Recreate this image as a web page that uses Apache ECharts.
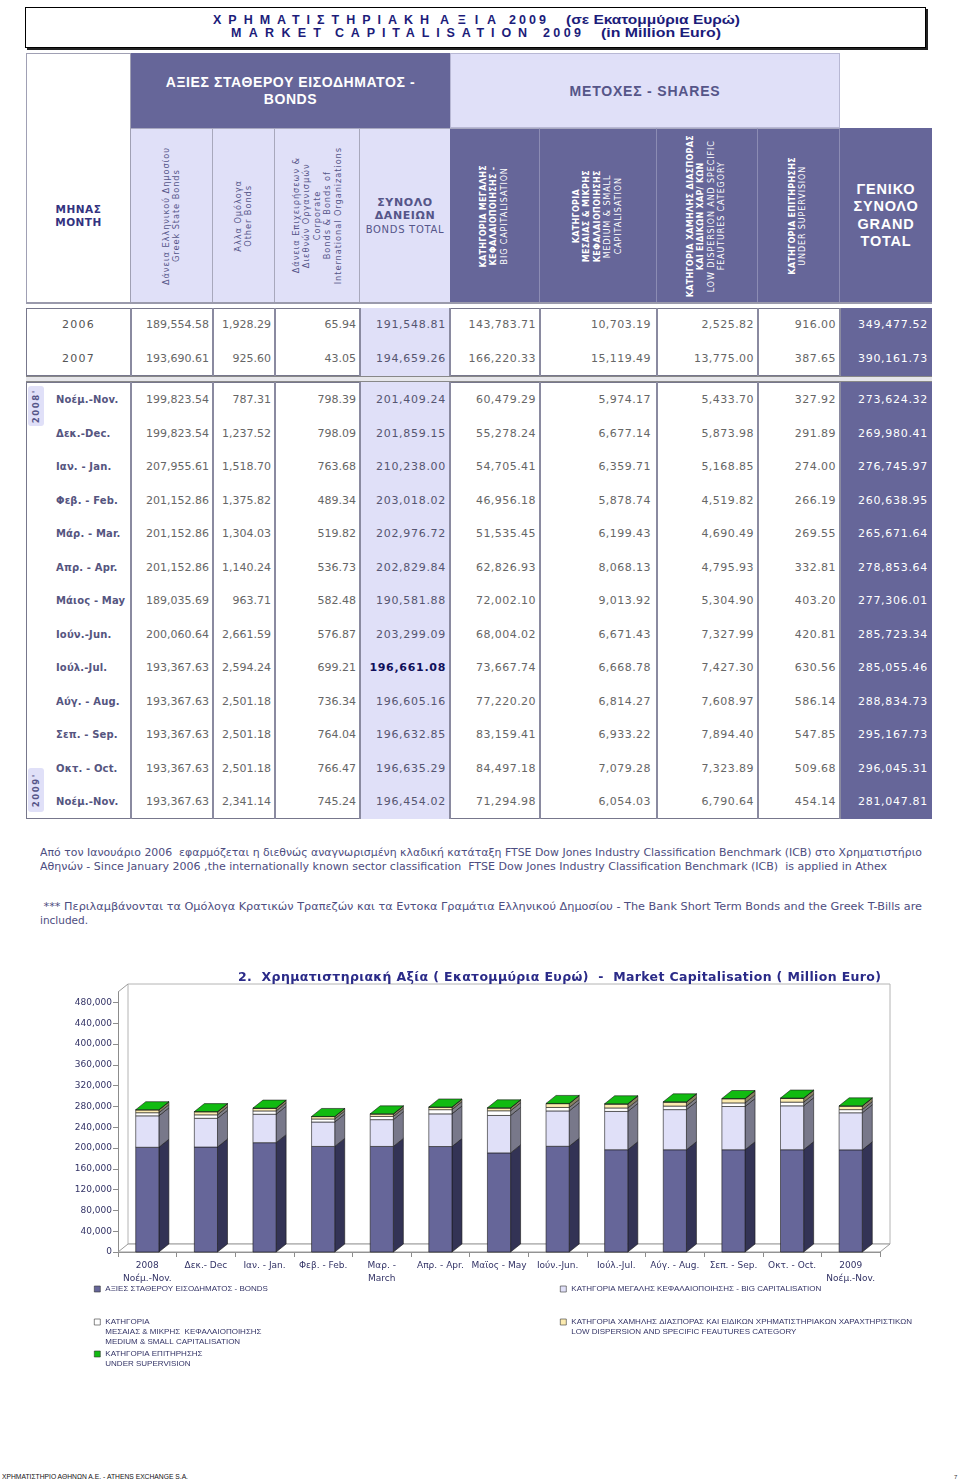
<!DOCTYPE html>
<html><head><meta charset="utf-8">
<script src="https://cdn.jsdelivr.net/npm/echarts@6/dist/echarts.min.js"></script>
<style>
html,body{margin:0;padding:0}
body{width:960px;height:1482px;position:relative;background:#fff;overflow:hidden;font-family:"DejaVu Sans",Verdana,sans-serif}
.a{position:absolute;box-sizing:border-box}
.t{position:absolute;white-space:pre;transform-origin:0 50%}
.vt{writing-mode:vertical-rl;transform:rotate(180deg);text-align:center;white-space:nowrap}
</style></head><body>
<div id="page" class="a" style="left:0;top:0;width:960px;height:1482px"></div>
<div id="chart" class="a" style="left:0;top:940px;width:960px;height:460px"></div>
<div id="over" class="a" style="left:0;top:0;width:960px;height:1482px;pointer-events:none"></div>
<script>
// ---------------- DATA ----------------
const monthLabels = ['Νοέμ.-Nov.','Δεκ.-Dec.','Ιαν. - Jan.','Φεβ. - Feb.','Μάρ. - Mar.','Απρ. - Apr.','Μάιος - May','Ιούν.-Jun.','Ιούλ.-Jul.','Αύγ. - Aug.','Σεπ. - Sep.','Οκτ. - Oct.','Νοέμ.-Nov.'];
const chartCategories = ['2008\nΝοέμ.-Nov.','Δεκ.- Dec','Ιαν. - Jan.','Φεβ. - Feb.','Μαρ. -\nMarch','Απρ. - Apr.','Μαϊος - May','Ιούν.-Jun.','Ιούλ.-Jul.','Αύγ. - Aug.','Σεπ. - Sep.','Οκτ. - Oct.','2009\nΝοέμ.-Nov.'];
const greekState = [199823.54,199823.54,207955.61,201152.86,201152.86,201152.86,189035.69,200060.64,193367.63,193367.63,193367.63,193367.63,193367.63];
const otherBonds = [787.31,1237.52,1518.70,1375.82,1304.03,1140.24,963.71,2661.59,2594.24,2501.18,2501.18,2501.18,2341.14];
const corporateBonds = [798.39,798.09,763.68,489.34,519.82,536.73,582.48,576.87,699.21,736.34,764.04,766.47,745.24];
const bondsTotal = [201409.24,201859.15,210238.00,203018.02,202976.72,202829.84,190581.88,203299.09,196661.08,196605.16,196632.85,196635.29,196454.02];
const bigCap = [60479.29,55278.24,54705.41,46956.18,51535.45,62826.93,72002.10,68004.02,73667.74,77220.20,83159.41,84497.18,71294.98];
const mediumSmall = [5974.17,6677.14,6359.71,5878.74,6199.43,8068.13,9013.92,6671.43,6668.78,6814.27,6933.22,7079.28,6054.03];
const lowDispersion = [5433.70,5873.98,5168.85,4519.82,4690.49,4795.93,5304.90,7327.99,7427.30,7608.97,7894.40,7323.89,6790.64];
const underSupervision = [327.92,291.89,274.00,266.19,269.55,332.81,403.20,420.81,630.56,586.14,547.85,509.68,454.14];
const grandTotal = [273624.32,269980.41,276745.97,260638.95,265671.64,278853.64,277306.01,285723.34,285055.46,288834.73,295167.73,296045.31,281047.81];

const yearLabels = ['2006','2007'];
const yearGreekState = [189554.58,193690.61];
const yearOtherBonds = [1928.29,925.60];
const yearCorporate = [65.94,43.05];
const yearBondsTotal = [191548.81,194659.26];
const yearBigCap = [143783.71,166220.33];
const yearMediumSmall = [10703.19,15119.49];
const yearLowDispersion = [2525.82,13775.00];
const yearSupervision = [916.00,387.65];
const yearGrandTotal = [349477.52,390161.73];

const yAxisMax = 500000, yAxisInterval = 40000;

// ---------------- helpers ----------------
const page = document.getElementById('page');
const over = document.getElementById('over');
function box(x,y,w,h,st,parent){const d=document.createElement('div');d.className='a';Object.assign(d.style,{left:x+'px',top:y+'px',width:w+'px',height:h+'px'},st||{});(parent||page).appendChild(d);return d;}
function txt(text,o,parent){
  const s=document.createElement('span');s.className='t';s.textContent=text;
  const size=o.size||11, lh=Math.round(size*1.25);
  Object.assign(s.style,{fontSize:size+'px',lineHeight:lh+'px',left:o.x+'px',top:(o.y-lh/2)+'px',color:o.color||'#333',fontWeight:o.weight||'normal',fontFamily:o.family||'"DejaVu Sans",sans-serif'});
  if(o.ls!=null) s.style.letterSpacing=o.ls+'px';
  (parent||page).appendChild(s);
  if(o.w){
    const n=text.length;
    const nat=s.getBoundingClientRect().width - (o.ls||0)*n;
    if(o.mode==='ls'){const ls=(o.w-nat)/(n-1);s.style.letterSpacing=ls+'px';}
    else {s.style.transform='scaleX('+(o.w/nat)+')';}
  }
  return s;
}
function fmt2(v){const s=v.toFixed(2).split('.');return s[0].replace(/\B(?=(\d{3})+(?!\d))/g,',')+'.'+s[1];}
function fmt0(v){return String(Math.round(v)).replace(/\B(?=(\d{3})+(?!\d))/g,',');}

const PURPLE='#666699', LAV='#e0e0f8', NAVY='#1c1c7a', TXTP='#555588';

// ---------------- title box ----------------
box(25,7,901,41,{border:'1px solid #000',boxShadow:'2px 2px 0 #222',background:'#fff'});
const tf='"Liberation Sans",Arial,sans-serif';
txt('ΧΡΗΜΑΤΙΣΤΗΡΙΑΚΗ',{x:213,y:19.5,w:216,mode:'ls',size:12.5,weight:'bold',color:NAVY,family:tf});
txt('ΑΞΙΑ',{x:440,y:19.5,w:56,mode:'ls',size:12.5,weight:'bold',color:NAVY,family:tf});
txt('2009',{x:509,y:19.5,w:37,mode:'ls',size:12.5,weight:'bold',color:NAVY,family:tf});
txt('(σε Εκατομμύρια Ευρώ)',{x:566,y:19.5,w:174,size:13,weight:'bold',color:NAVY,family:tf});
txt('MARKET',{x:231,y:33,w:90,mode:'ls',size:12.5,weight:'bold',color:NAVY,family:tf});
txt('CAPITALISATION',{x:335,y:33,w:192,mode:'ls',size:12.5,weight:'bold',color:NAVY,family:tf});
txt('2009',{x:543,y:33,w:38,mode:'ls',size:12.5,weight:'bold',color:NAVY,family:tf});
txt('(in Million Euro)',{x:601,y:33,w:120,size:13,weight:'bold',color:NAVY,family:tf});

// ---------------- table header ----------------
const cols=[26,131,213,275,360,450,540,657,758,840,932];
box(26,53,105,250,{border:'1px solid #a0a0b4',background:'#fff'});
const mc=box(26,128,105,175,{display:'flex',alignItems:'center',justifyContent:'center',textAlign:'center',color:'#333380',fontWeight:'bold',fontSize:'10.5px',lineHeight:'13px',letterSpacing:'0.5px'});
mc.innerHTML='<div>ΜΗΝΑΣ<br>MONTH</div>';
const bg=box(131,53,319,75,{background:PURPLE,display:'flex',alignItems:'center',justifyContent:'center',textAlign:'center',color:'#fff',fontWeight:'bold',fontSize:'14px',lineHeight:'17px',fontFamily:tf,letterSpacing:'0.6px'});
bg.innerHTML='<div>ΑΞΙΕΣ ΣΤΑΘΕΡΟΥ ΕΙΣΟΔΗΜΑΤΟΣ -<br>BONDS</div>';
const sg=box(450,53,390,75,{background:LAV,border:'1px solid #b8b8d4',display:'flex',alignItems:'center',justifyContent:'center',color:TXTP,fontWeight:'bold',fontSize:'14px',fontFamily:tf,letterSpacing:'0.8px'});
sg.innerHTML='<div>ΜΕΤΟΧΕΣ - SHARES</div>';

function vcell(i,bgc,lines,color,br,fs){
  const c=box(cols[i],128,cols[i+1]-cols[i],175,{background:bgc,borderRight:br,borderTop:'1px solid #a8a8c0',display:'flex',alignItems:'center',justifyContent:'center'});
  const t=document.createElement('div');t.className='vt';
  Object.assign(t.style,{fontSize:(fs||8)+'px',lineHeight:'10.4px',color:color});
  t.innerHTML=lines.map(l=>'<span style="font-weight:'+(l[1]?'bold':'normal')+';letter-spacing:'+(l[1]?'0.3px':'0.9px')+'">'+l[0]+'</span>').join('<br>');
  c.appendChild(t);
}
vcell(1,LAV,[['Δάνεια  Ελληνικού  Δημοσίου'],['Greek  State  Bonds']],TXTP,'1px solid #a8a8bc',8.3);
vcell(2,LAV,[['Άλλα  Ομόλογα'],['Other Bonds']],TXTP,'1px solid #a8a8bc',8.3);
vcell(3,LAV,[['Δάνεια  Επιχειρήσεων &'],['Διεθνών Οργανισμών'],['Corporate'],['Bonds & Bonds of'],['International Organizations']],TXTP,'1px solid #a8a8bc',8.3);
const bt=box(360,128,90,175,{background:LAV,borderTop:'1px solid #a8a8c0',display:'flex',alignItems:'center',justifyContent:'center',textAlign:'center',color:TXTP,fontSize:'10.5px',lineHeight:'13.5px'});
bt.innerHTML='<div><b style="font-size:11px;letter-spacing:0.6px">ΣΥΝΟΛΟ<br>ΔΑΝΕΙΩΝ</b><br><span style="letter-spacing:0.7px;font-size:10px">BONDS TOTAL</span></div>';
vcell(5,PURPLE,[['ΚΑΤΗΓΟΡΙΑ ΜΕΓΑΛΗΣ',1],['ΚΕΦΑΛΑΙΟΠΟΙΗΣΗΣ -',1],['BIG CAPITALISATION']],'#fff','1px solid #8c8cb4');
vcell(6,PURPLE,[['ΚΑΤΗΓΟΡΙΑ',1],['ΜΕΣΑΙΑΣ & ΜΙΚΡΗΣ',1],['ΚΕΦΑΛΑΙΟΠΟΙΗΣΗΣ',1],['MEDIUM & SMALL'],['CAPITALISATION']],'#fff','1px solid #8c8cb4');
vcell(7,PURPLE,[['ΚΑΤΗΓΟΡΙΑ ΧΑΜΗΛΗΣ ΔΙΑΣΠΟΡΑΣ',1],['ΚΑΙ ΕΙΔΙΚΩΝ ΧΑΡ/ ΚΩΝ',1],['LOW  DISPERSION AND SPECIFIC'],['FEAUTURES CATEGORY']],'#fff','1px solid #8c8cb4');
vcell(8,PURPLE,[['ΚΑΤΗΓΟΡΙΑ ΕΠΙΤΗΡΗΣΗΣ',1],['UNDER SUPERVISION']],'#fff','1px solid #8c8cb4');
const gt=box(840,128,92,175,{background:PURPLE,display:'flex',alignItems:'center',justifyContent:'center',textAlign:'center',color:'#fff',fontWeight:'bold',fontSize:'14.5px',lineHeight:'17.3px',fontFamily:tf,letterSpacing:'0.8px'});
gt.innerHTML='<div>ΓΕΝΙΚΟ<br>ΣΥΝΟΛΟ<br>GRAND<br>TOTAL</div>';
box(26,302,906,2,{background:'#9a9aac'});

// ---------------- table body ----------------
function block(top,h){
  box(26,top,906,h,{border:'1.5px solid #77778c'});
  box(cols[4],top,cols[5]-cols[4],h,{background:LAV});
  box(cols[9],top,cols[10]-cols[9],h,{background:PURPLE});
  for(let i=1;i<10;i++) box(cols[i]-0.75,top,1.5,h,{background:'#8a8aa0'});
}
block(308,68);
box(26,376,906,6,{background:'#e6e6ea',borderTop:'1px solid #888',borderBottom:'1px solid #888'});
block(382,437);

function valueCell(ci,y,v,special){
  let ls=0,color='#666',weight='normal';
  if(ci===3){ls=0.7;color=special?'#10105a':'#555570';weight=special?'bold':'normal';}
  else if(ci>=4&&ci<=7){ls=0.45;}
  else if(ci===8){ls=0.7;color='#fff';}
  const pad=(ci===5)?6:4;
  const d=box(cols[ci+2]-200-pad,y-9,200,18,{textAlign:'right',fontSize:'11px',lineHeight:'18px',color:color,letterSpacing:ls+'px',fontWeight:weight,whiteSpace:'nowrap'});
  d.textContent=fmt2(v);
}
const yearCols=[yearGreekState,yearOtherBonds,yearCorporate,yearBondsTotal,yearBigCap,yearMediumSmall,yearLowDispersion,yearSupervision,yearGrandTotal];
yearLabels.forEach((lab,r)=>{
  const y=325+r*34;
  box(26,y-9,105,18,{textAlign:'center',fontSize:'11px',lineHeight:'18px',color:'#555',letterSpacing:'1.2px'}).textContent=lab;
  yearCols.forEach((arr,ci)=>valueCell(ci,y,arr[r]));
});
const monthCols=[greekState,otherBonds,corporateBonds,bondsTotal,bigCap,mediumSmall,lowDispersion,underSupervision,grandTotal];
monthLabels.forEach((lab,r)=>{
  const y=400+r*33.5;
  box(56,y-9,74,18,{fontSize:'10px',lineHeight:'18px',color:'#555580',fontWeight:'bold',letterSpacing:'0.15px',whiteSpace:'nowrap'}).textContent=lab;
  monthCols.forEach((arr,ci)=>valueCell(ci,y,arr[r],ci===3&&r===8));
});
function yearTag(top,h,label){
  const b=box(28,top,16,h,{background:LAV,borderRadius:'3px',display:'flex',alignItems:'center',justifyContent:'center'});
  const t=document.createElement('div');t.className='vt';
  Object.assign(t.style,{fontSize:'8.5px',fontWeight:'bold',color:TXTP,letterSpacing:'1.6px',lineHeight:'10px'});
  t.textContent=label;b.appendChild(t);
}
yearTag(386,40,"2008'");
yearTag(768,44,"2009'");

// ---------------- notes ----------------
const nc='#4d4d80', nf='"DejaVu Sans",sans-serif';
txt('Από τον Ιανουάριο 2006  εφαρμόζεται η διεθνώς αναγνωρισμένη κλαδική κατάταξη FTSE Dow Jones Industry Classification Benchmark (ICB) στο Χρηματιστήριο',{x:40,y:853,w:882,size:11,color:nc,family:nf});
txt('Αθηνών - Since January 2006 ,the internationally known sector classification  FTSE Dow Jones Industry Classification Benchmark (ICB)  is applied in Athex',{x:40,y:866.5,w:847,size:11,color:nc,family:nf});
txt(' *** Περιλαμβάνονται τα Ομόλογα Κρατικών Τραπεζών και τα Εντοκα Γραμάτια Ελληνικού Δημοσίου - The Bank Short Term Bonds and the Greek T-Bills are',{x:40,y:907,w:882,size:11,color:nc,family:nf});
txt('included.',{x:40,y:920.5,w:48,size:11,color:nc,family:nf});

// chart title
txt('2.  Χρηματιστηριακή Αξία ( Εκατομμύρια Ευρώ)  -  Market Capitalisation ( Million Euro)',{x:238,y:977,w:643,mode:'ls',size:12.5,weight:'bold',color:'#2a2a88',family:nf},over);

// footer
txt('ΧΡΗΜΑΤΙΣΤΗΡΙΟ ΑΘΗΝΩΝ Α.Ε. - ATHENS EXCHANGE S.A.',{x:2,y:1476,w:186,size:7,color:'#111',family:tf});
txt('7',{x:954,y:1477,size:6,color:'#333',family:tf});

// ---------------- chart ----------------
const DX=10, DY=-8;
const layers=[
  {name:'ΑΞΙΕΣ ΣΤΑΘΕΡΟΥ ΕΙΣΟΔΗΜΑΤΟΣ - BONDS', values:bondsTotal, front:'#666699', side:'#333355', pre:''},
  {name:'ΚΑΤΗΓΟΡΙΑ ΜΕΓΑΛΗΣ ΚΕΦΑΛΑΙΟΠΟΙΗΣΗΣ - BIG CAPITALISATION', values:bigCap, front:'#e0e0f8', side:'#78788a', pre:''},
  {name:'ΚΑΤΗΓΟΡΙΑ\nΜΕΣΑΙΑΣ & ΜΙΚΡΗΣ  ΚΕΦΑΛΑΙΟΠΟΙΗΣΗΣ\nMEDIUM & SMALL CAPITALISATION', values:mediumSmall, front:'#ffffff', side:'#808088', pre:'\n\n'},
  {name:'ΚΑΤΗΓΟΡΙΑ ΧΑΜΗΛΗΣ ΔΙΑΣΠΟΡΑΣ ΚΑΙ ΕΙΔΙΚΩΝ ΧΡΗΜΑΤΙΣΤΗΡΙΑΚΩΝ ΧΑΡΑΧΤΗΡΙΣΤΙΚΩΝ\nLOW DISPERSION AND SPECIFIC FEAUTURES CATEGORY', values:lowDispersion, front:'#fcebb0', side:'#8a8262', pre:'\n'},
  {name:'ΚΑΤΗΓΟΡΙΑ ΕΠΙΤΗΡΗΣΗΣ\nUNDER SUPERVISION', values:underSupervision, front:'#11bb11', side:'#0a700a', pre:'\n'}
];
const cum=chartCategories.map(()=>0);
const series=[{
  type:'custom', name:'_wall', silent:true, data:[[0,0]], encode:{x:0,y:1}, z:1,
  renderItem:function(params,api){
    const bw=api.size([1,0])[0];
    const a=api.coord([0,0]), b=api.coord([chartCategories.length-1,yAxisMax]);
    const L=a[0]-bw/2, R=b[0]+bw/2, B=a[1], T=b[1];
    return {type:'group',children:[
      {type:'rect',shape:{x:L+DX,y:T+DY,width:R-L,height:B-T},style:{fill:'#fff',stroke:'#b4b4b4',lineWidth:1}},
      {type:'polygon',shape:{points:[[L,B],[R,B],[R+DX,B+DY],[L+DX,B+DY]]},style:{fill:'#fff',stroke:'#9a9a9a',lineWidth:1}},
      {type:'line',shape:{x1:L,y1:T,x2:L+DX,y2:T+DY},style:{stroke:'#9a9a9a',lineWidth:1}}
    ]};
  }
}];
layers.forEach((ly,k)=>{
  const isTop=k===layers.length-1;
  const data=ly.values.map((v,i)=>{const lo=cum[i];cum[i]+=v;return [i,lo,cum[i]];});
  series.push({
    type:'custom', name:ly.name, data:data, encode:{x:0,y:2}, z:2+k,
    itemStyle:{color:ly.front},
    renderItem:function(params,api){
      const i=api.value(0);
      const p0=api.coord([i,api.value(1)]), p1=api.coord([i,api.value(2)]);
      const bw=api.size([1,0])[0];
      const w=bw*0.395;
      const x0=p0[0]-w/2, x1=x0+w, yb=p0[1], yt=p1[1];
      const ch=[
        {type:'polygon',shape:{points:[[x1,yb],[x1+DX,yb+DY],[x1+DX,yt+DY],[x1,yt]]},style:{fill:ly.side,stroke:'#1a1a1a',lineWidth:0.6}},
        {type:'rect',shape:{x:x0,y:yt,width:w,height:yb-yt},style:{fill:ly.front,stroke:'#1a1a1a',lineWidth:0.6}}
      ];
      if(isTop) ch.push({type:'polygon',shape:{points:[[x0,yt],[x1,yt],[x1+DX,yt+DY],[x0+DX,yt+DY]]},style:{fill:ly.front,stroke:'#1a1a1a',lineWidth:0.6}});
      return {type:'group',children:ch};
    }
  });
});
const legBase={orient:'horizontal',itemWidth:6,itemHeight:6,icon:'rect',selectedMode:false,padding:0,itemGap:0};
function leg(k,left,top){
  const ly=layers[k];
  return Object.assign({},legBase,{left:left,top:top,
    formatter:function(n){return ly.pre+n;},
    data:[{name:ly.name,itemStyle:{color:ly.front,borderColor:'#333',borderWidth:0.6}}],
    textStyle:{fontSize:8,fontFamily:'"Liberation Sans",Arial,sans-serif',color:'#333366',lineHeight:10}});
}
const chart=echarts.init(document.getElementById('chart'));
chart.setOption({
  animation:false,
  backgroundColor:'transparent',
  grid:{left:118,top:52,width:762,height:260,outerBoundsMode:'none',containLabel:false},
  xAxis:{type:'category',data:chartCategories,boundaryGap:true,
    axisLine:{show:true,lineStyle:{color:'#8c8c8c',width:1}},
    axisTick:{show:true,length:5,alignWithLabel:false,lineStyle:{color:'#8c8c8c'}},
    axisLabel:{interval:0,hideOverlap:false,margin:7,fontSize:9,lineHeight:13,color:'#333366',fontFamily:'"DejaVu Sans",sans-serif'},
    splitLine:{show:false}},
  yAxis:{type:'value',min:0,max:yAxisMax,interval:yAxisInterval,
    axisLine:{show:true,lineStyle:{color:'#8c8c8c',width:1}},
    axisTick:{show:true,length:5,lineStyle:{color:'#8c8c8c'}},
    axisLabel:{showMaxLabel:false,margin:6,fontSize:9,color:'#333366',fontFamily:'"DejaVu Sans",sans-serif',formatter:v=>fmt0(v)},
    splitLine:{show:false}},
  legend:[leg(0,94,344),leg(1,560,344),leg(2,94,357),leg(3,560,367),leg(4,94,399)],
  series:series
});
</script>
</body></html>
